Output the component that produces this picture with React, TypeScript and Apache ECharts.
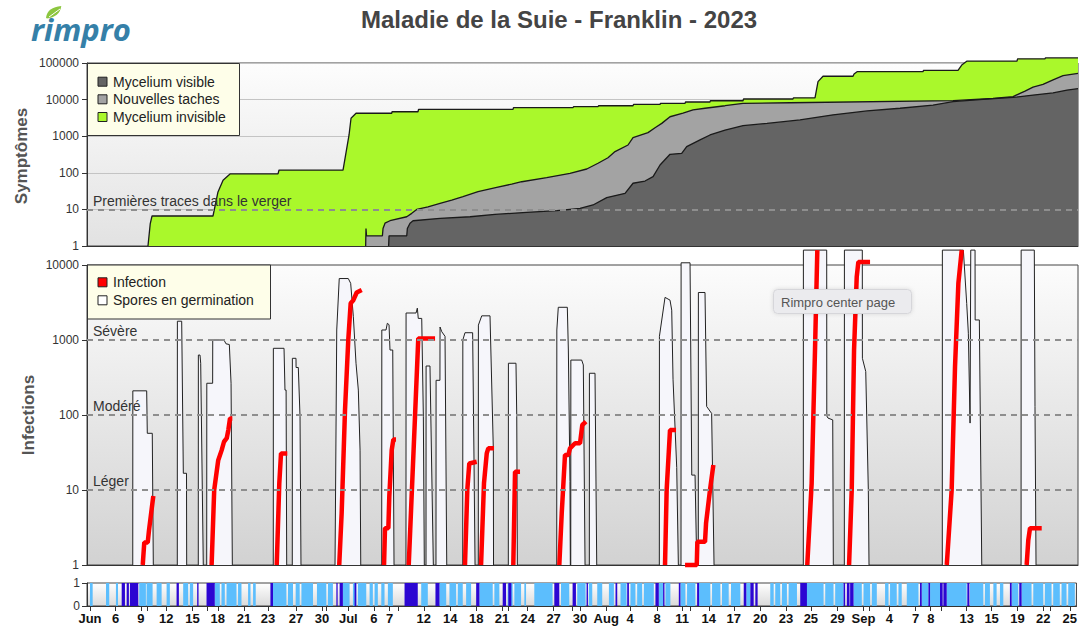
import React, { useEffect, useRef } from 'react';
import * as echarts from 'echarts';

const FONT = '"Liberation Sans", Arial, Helvetica, sans-serif';

// x axis in days since Jun 1 (Jun 1 = 0)
const X_MIN = 1.65;
const X_MAX = 116.88;

const tickDays = [2.0, 4.99, 7.93, 10.87, 13.94, 16.88, 19.94, 22.73, 25.99, 29.01, 32.08, 35.06, 36.88, 40.87, 43.94, 46.97, 49.99, 52.97, 55.99, 59.06, 62.12, 64.91, 68.05, 70.95, 74.06, 76.97, 80.06, 83.05, 85.95, 89.06, 92.08, 95.1, 98.16, 99.91, 104.09, 107.0, 110.02, 113.01, 116.1];
const tickLabels = ['Jun', '6', '9', '12', '15', '18', '21', '23', '27', '30', 'Jul', '6', '7', '12', '14', '18', '21', '24', '27', '30', 'Aug', '4', '8', '11', '14', '17', '20', '23', '25', '29', 'Sep', '4', '7', '8', '13', '15', '19', '22', '25'];
const minorTickDays = [8.71, 15.69, 29.56, 37.93, 50.76, 58.2, 71.85, 92.78, 101.1, 113.78];

// Symptômes panel
const myceliumInvisible = [[8.74, 1], [9.0, 4], [9.21, 6.6], [16.3, 6.6], [16.88, 30], [17.47, 63], [18.28, 93], [23.86, 93], [23.98, 119], [31.42, 119], [32.12, 1080], [32.35, 3090], [32.93, 4240], [37.08, 4240], [37.12, 4660], [40.14, 4660], [40.2, 5400], [51.19, 5400], [51.24, 6000], [58.16, 6000], [58.22, 6400], [61.07, 6400], [61.13, 6800], [65.14, 6800], [65.2, 7400], [68.28, 7400], [68.34, 7900], [71.19, 7900], [71.24, 8600], [74.09, 8600], [74.14, 9300], [77.93, 9300], [77.99, 10400], [83.74, 10400], [83.8, 11200], [86.3, 11200], [86.65, 31000], [87.23, 43500], [90.72, 43500], [90.84, 50000], [91.19, 58000], [98.86, 58000], [98.92, 63000], [102.93, 63000], [103.4, 90000], [103.98, 113000], [109.79, 113000], [109.85, 130000], [113.05, 130000], [113.1, 138000], [116.88, 138000]];
const nouvellesTaches = [[34.05, 1], [34.09, 3.0], [34.15, 1.9], [36.0, 1.9], [36.07, 3.0], [36.3, 4.2], [36.88, 4.9], [38.83, 6.3], [39.41, 7.8], [39.99, 10], [41.3, 11.8], [42.7, 14.7], [44.06, 18], [45.37, 22.3], [47.12, 30.5], [49.29, 40], [51.03, 49], [52.2, 57], [55.1, 74], [57.81, 97], [59.76, 127], [61.07, 182], [62.23, 258], [63.05, 380], [64.56, 575], [65.14, 910], [66.88, 1250], [67.7, 1700], [68.48, 2240], [69.44, 3400], [70.95, 4240], [72.12, 5250], [73.51, 5800], [75.84, 6800], [77.93, 7900], [83.4, 8200], [102.35, 9350], [107.0, 10800], [109.33, 12000], [110.14, 14800], [110.72, 17000], [111.65, 22000], [112.81, 26000], [113.98, 34600], [115.14, 45000], [116.88, 52000]];
const myceliumVisible = [[36.72, 1], [36.77, 1.9], [38.83, 1.9], [38.9, 3.0], [39.21, 4.2], [39.56, 4.9], [42.7, 5.7], [46.19, 6.3], [49.09, 7.3], [52.78, 8.3], [56.27, 9.2], [58.98, 10.7], [60.49, 13.2], [62.08, 21], [64.21, 27.5], [65.14, 51.8], [66.53, 59.5], [67.47, 78.5], [68.28, 163], [69.44, 320], [70.8, 340], [71.38, 520], [72.93, 790], [74.09, 1080], [75.84, 1470], [77.93, 1940], [80.72, 2240], [84.56, 2780], [88.4, 3850], [92.35, 4900], [96.19, 5800], [100.02, 7100], [102.35, 8800], [105.84, 10200], [109.33, 11500], [111.65, 13300], [113.98, 15200], [115.6, 18200], [116.88, 20000]];

// Infections panel
const sporeEvents = [
  [[6.97, 1], [6.98, 210], [8.59, 210], [8.66, 57], [9.24, 57], [9.36, 1]],
  [[12.15, 1], [12.16, 1780], [12.66, 1780], [12.85, 16.7], [13.22, 16.7], [13.24, 1]],
  [[14.59, 1], [14.6, 630], [14.79, 630], [14.87, 490], [14.95, 490], [15.17, 1]],
  [[15.57, 1], [15.58, 265], [16.26, 265], [16.27, 1000], [17.58, 1000], [17.81, 890], [18.2, 870], [18.4, 265], [18.55, 1]],
  [[23.31, 1], [23.32, 775], [24.56, 775], [24.67, 215], [24.8, 215], [24.87, 1]],
  [[25.52, 1], [25.53, 570], [25.95, 570], [25.96, 430], [26.22, 430], [26.42, 95], [26.53, 1]],
  [[30.49, 1], [30.69, 1360], [30.98, 6600], [32.03, 6600], [32.31, 5700], [32.62, 2040], [32.93, 490], [33.2, 215], [33.4, 34], [33.48, 1]],
  [[35.92, 1], [35.93, 1360], [36.42, 1360], [36.57, 1670], [36.77, 1600], [36.88, 735], [37.2, 735], [37.35, 1]],
  [[38.74, 1], [38.75, 2290], [39.91, 2290], [40.06, 2660], [40.17, 1940], [40.57, 1940], [40.76, 95], [40.87, 1]],
  [[41.07, 1], [41.08, 450], [41.53, 450], [41.92, 1]],
  [[42.23, 1], [42.24, 290], [42.69, 290], [42.7, 1490], [42.9, 1290], [43.28, 1120], [43.48, 1]],
  [[45.34, 1], [45.35, 1000], [45.6, 1250], [46.49, 1250], [46.65, 25], [46.77, 1]],
  [[47.15, 1], [47.16, 1580], [47.55, 2100], [48.51, 2100], [48.9, 34], [48.92, 1]],
  [[50.64, 1], [50.65, 490], [51.53, 490], [51.62, 95], [51.69, 1]],
  [[56.27, 1], [56.28, 1360], [56.45, 2730], [57.5, 2730], [57.62, 735], [57.81, 13], [57.85, 1]],
  [[57.9, 1], [57.91, 540], [59.17, 540], [59.36, 465], [59.56, 1]],
  [[60.06, 1], [60.07, 360], [60.72, 360], [60.92, 1]],
  [[68.2, 1], [68.21, 1120], [68.86, 3700], [69.44, 3400], [69.64, 2500], [69.79, 300], [70.22, 20], [70.41, 1]],
  [[70.72, 1], [70.73, 10700], [71.77, 10700], [71.97, 15.8], [72.35, 15.8], [72.55, 1]],
  [[72.73, 1], [72.74, 4300], [73.51, 4300], [73.7, 130], [74.28, 105], [74.56, 1]],
  [[84.94, 1], [84.95, 15800], [87.66, 15800], [87.67, 97], [87.81, 91], [88.36, 86], [88.43, 1]],
  [[89.71, 1], [89.72, 15800], [91.8, 15800], [91.81, 570], [92.2, 380], [92.5, 10], [92.58, 1]],
  [[101.1, 1], [101.11, 15800], [103.55, 15800], [103.94, 3060], [104.13, 1230], [104.33, 78], [104.41, 15800], [104.91, 15800], [104.92, 1850], [105.41, 1850], [105.69, 1]],
  [[110.26, 1], [110.27, 15800], [111.8, 15800], [111.88, 130], [112.0, 1]],
];
const infectionEvents = [
  [[8.13, 1], [8.31, 2.0], [8.71, 2.0], [8.86, 2.9], [9.36, 8.3]],
  [[16.14, 1], [16.44, 10], [16.91, 25], [17.31, 34], [17.58, 44], [17.9, 49], [18.08, 63], [18.28, 90], [18.55, 90]],
  [[23.71, 1], [24.01, 12.3], [24.21, 30.7], [24.94, 30.7]],
  [[30.98, 1], [31.26, 4.9], [31.65, 116], [32.03, 1000], [32.31, 3100], [32.62, 3400], [33.01, 4300], [33.59, 4640]],
  [[36.19, 1], [36.3, 3.1], [36.69, 3.1], [36.8, 8.15], [37.08, 34], [37.27, 47], [37.58, 47]],
  [[39.06, 1], [39.33, 5.4], [39.79, 95], [40.17, 1050], [42.12, 1050]],
  [[45.6, 1], [45.87, 10], [46.1, 22.6], [46.96, 23.8]],
  [[47.47, 1], [47.81, 12.3], [48.13, 30.7], [48.31, 36], [48.98, 36]],
  [[51.22, 1], [51.42, 17.5], [52.0, 17.5]],
  [[56.57, 1], [56.85, 4.9], [57.23, 29.3], [57.62, 29.3], [57.81, 36], [58.4, 42], [58.98, 42], [59.24, 73.6], [59.67, 81.5]],
  [[68.86, 1], [69.05, 10], [69.44, 63], [70.14, 63]],
  [[71.19, 1], [72.55, 1], [72.62, 2.04], [73.51, 2.04], [73.63, 3.6], [74.09, 10], [74.48, 21.5]],
  [[85.4, 1], [85.91, 12.3], [86.3, 735], [86.57, 15800]],
  [[90.26, 1], [90.57, 10], [90.84, 735], [91.15, 6900], [91.34, 11000], [92.7, 11000]],
  [[101.62, 1], [102.19, 10], [102.58, 440], [102.97, 5700], [103.36, 15800]],
  [[110.91, 1], [111.1, 2.15], [111.3, 3.1], [112.66, 3.1]],
];
const severityLevels = [10, 100, 1000];
const severityLabels = ['Léger', 'Modéré', 'Sévère'];
const firstTraceLevel = 10;

// wetness strip: [start, end] in days
const wetLightBands = [[2.0, 2.31], [3.86, 4.24], [5.02, 5.26], [7.73, 8.51], [8.59, 9.29], [9.76, 10.34], [10.92, 11.3], [12.85, 13.43], [13.63, 14.01], [16.53, 17.12], [17.31, 17.7], [17.9, 19.06], [19.24, 19.64], [20.41, 20.69], [20.99, 21.3], [23.31, 24.87], [25.06, 25.64], [25.95, 26.42], [26.62, 27.97], [28.43, 29.52], [29.71, 30.29], [31.45, 32.23], [32.62, 33.01], [33.2, 34.17], [34.56, 34.94], [35.14, 35.52], [35.92, 36.3], [36.69, 37.27], [40.57, 41.34], [42.7, 43.48], [43.86, 44.64], [44.83, 45.41], [45.8, 46.38], [47.35, 48.9], [49.09, 49.67], [50.64, 51.22], [51.42, 52.2], [52.58, 52.78], [53.74, 55.87], [56.85, 57.81], [58.74, 59.71], [60.1, 60.49], [61.07, 61.65], [62.43, 63.01], [63.78, 64.48], [64.94, 65.52], [65.72, 66.3], [66.5, 67.66], [68.24, 68.74], [69.01, 69.59], [70.76, 71.34], [71.53, 72.5], [72.93, 74.24], [74.44, 75.41], [75.6, 76.38], [76.65, 77.73], [78.43, 78.9], [81.22, 81.62], [81.8, 82.38], [82.58, 83.16], [83.36, 84.33], [85.33, 87.43], [87.62, 88.59], [88.78, 89.76], [90.92, 91.88], [92.08, 92.85], [93.05, 93.63], [94.59, 94.99], [95.17, 95.95], [96.15, 96.53], [97.12, 98.48], [98.86, 99.64], [99.83, 100.99], [101.77, 104.09], [104.48, 106.03], [106.22, 106.8], [107.2, 107.58], [107.97, 108.36], [109.33, 110.1], [110.49, 111.65], [111.85, 113.01], [113.2, 113.98], [114.17, 114.94], [115.14, 115.72], [115.92, 116.69]];
const wetDarkBands = [[5.69, 6.07], [6.27, 6.53], [6.65, 7.62], [12.08, 12.35], [14.48, 14.64], [15.57, 16.53], [23.01, 23.31], [30.69, 30.84], [31.07, 31.45], [32.81, 33.01], [38.63, 40.17], [42.23, 42.7], [46.97, 47.35], [50.06, 50.45], [50.72, 51.07], [56.07, 56.65], [58.2, 58.59], [59.83, 59.99], [63.2, 63.4], [64.56, 64.76], [67.85, 68.24], [68.74, 68.9], [70.57, 70.76], [72.7, 72.93], [78.13, 78.43], [78.9, 79.29], [79.48, 79.75], [84.71, 85.49], [89.76, 89.94], [90.14, 90.45], [90.52, 90.92], [98.66, 98.86], [99.64, 99.83], [100.99, 101.3], [101.38, 101.77], [104.17, 104.41], [109.13, 109.33], [110.22, 110.49]];

function withGaps(events: number[][][]) {
  const out: any[] = [];
  events.forEach((ev) => {
    ev.forEach((p) => out.push(p));
    out.push([ev[ev.length - 1][0] + 0.001, '-']);
  });
  return out;
}

const vGrad = (a: string, b: string) =>
  new echarts.graphic.LinearGradient(0, 0, 0, 1, [
    { offset: 0, color: a },
    { offset: 1, color: b },
  ]);

const LEAF = 'M0 13 C1 5 7 1 17 0 C16 8 10 13 1 14 Z';
const ZT = 200;

export default function App() {
  const ref = useRef<HTMLDivElement>(null);
  useEffect(() => {
    if (!ref.current) return;
    try {
      echarts.graphic.registerShape('leaf', echarts.graphic.extendPath(LEAF, {}) as any);
    } catch (e) {}
    const chart = echarts.init(ref.current, null, { renderer: 'svg' });

    const gridL = 87;
    const gridW = 991;
    const axisLineStyle = { color: '#333', width: 1 };
    const yLabel = {
      fontSize: 12, color: '#333', margin: 8, fontFamily: FONT,
      formatter: (v: number) => (v >= 1 ? String(Math.pow(10, Math.round(Math.log10(v)))) : String(v)),
    };

    const xBase = (i: number) => ({
      type: 'value',
      gridIndex: i,
      min: X_MIN,
      max: X_MAX,
      axisLine: { show: true, lineStyle: axisLineStyle },
      axisTick: { show: false },
      axisLabel: { show: false },
      splitLine: { show: false },
    });

    const bandSeries = (data: number[][], color: string) => ({
      type: 'custom',
      xAxisIndex: 2,
      yAxisIndex: 2,
      silent: true,
      data,
      encode: { x: [0, 1] },
      renderItem: (params: any, api: any) => {
        const a = api.coord([api.value(0), 1]);
        const b = api.coord([api.value(1), 0]);
        return {
          type: 'rect',
          shape: { x: a[0], y: a[1], width: Math.max(1, b[0] - a[0]), height: b[1] - a[1] },
          style: { fill: color },
        };
      },
    });

    const legendRow = (y: number, color: string, label: string) => [
      { type: 'rect', z: ZT + 1, shape: { x: 98, y: y - 4.5, width: 9, height: 9 }, style: { fill: color, stroke: '#222', lineWidth: 1 } },
      { type: 'text', z: ZT + 1, x: 113, y, style: { text: label, font: `14px ${FONT}`, fill: '#222', textVerticalAlign: 'middle' } },
    ];

    const labelText = (x: number, y: number, text: string) => ({
      type: 'text', z: ZT, x, y, style: { text, font: `14px ${FONT}`, fill: '#333', textVerticalAlign: 'middle' },
    });

    const option: any = {
      animation: false,
      textStyle: { fontFamily: FONT },
      grid: [
        { left: gridL, top: 63, width: gridW, height: 183, show: true, borderColor: '#444', borderWidth: 1, backgroundColor: vGrad('#fdfdfd', '#e2e2e2') },
        { left: gridL, top: 265, width: gridW, height: 300, show: true, borderColor: '#444', borderWidth: 1, backgroundColor: vGrad('#fcfcfc', '#d2d2d2') },
        { left: gridL, top: 583, width: gridW, height: 23, show: true, borderColor: '#444', borderWidth: 1, backgroundColor: vGrad('#ffffff', '#dadada') },
      ],
      xAxis: [
        xBase(0),
        xBase(1),
        {
          ...xBase(2),
          axisTick: { show: true, length: 5, lineStyle: { color: '#333' }, customValues: tickDays.concat(minorTickDays) },
          axisLabel: {
            show: true,
            customValues: tickDays,
            fontSize: 13,
            fontWeight: 'bold',
            color: '#111',
            margin: 6,
            fontFamily: FONT,
            formatter: (v: number) => {
              const i = tickDays.findIndex((d) => Math.abs(d - v) < 1e-6);
              return i >= 0 ? tickLabels[i] : '';
            },
          },
        },
      ],
      yAxis: [
        {
          type: 'log', logBase: 10, gridIndex: 0, min: 1, max: 100000, splitNumber: 5,
          axisLine: { show: true, lineStyle: axisLineStyle },
          axisTick: { show: true, length: 5, lineStyle: { color: '#333' } },
          axisLabel: yLabel,
          splitLine: { show: true, lineStyle: { color: '#c4c4c4', width: 1 } },
        },
        {
          type: 'log', logBase: 10, gridIndex: 1, min: 1, max: 10000, splitNumber: 4,
          axisLine: { show: true, lineStyle: axisLineStyle },
          axisTick: { show: true, length: 5, lineStyle: { color: '#333' } },
          axisLabel: yLabel,
          splitLine: { show: false },
        },
        {
          type: 'value', gridIndex: 2, min: 0, max: 1, interval: 1,
          axisLine: { show: true, lineStyle: axisLineStyle },
          axisTick: { show: true, length: 5, lineStyle: { color: '#333' } },
          axisLabel: { fontSize: 12, color: '#333', margin: 7, fontFamily: FONT },
          splitLine: { show: false },
        },
      ],
      series: [
        {
          name: 'Mycelium invisible', type: 'line', xAxisIndex: 0, yAxisIndex: 0, data: myceliumInvisible,
          symbol: 'none', clip: false, silent: true,
          lineStyle: { color: '#1a1a1a', width: 1.3 },
          areaStyle: { color: '#aaf82b', opacity: 1, origin: 'start' },
        },
        {
          name: 'Nouvelles taches', type: 'line', xAxisIndex: 0, yAxisIndex: 0, data: nouvellesTaches,
          symbol: 'none', clip: false, silent: true,
          lineStyle: { color: '#1a1a1a', width: 1.3 },
          areaStyle: { color: '#a3a3a3', opacity: 1, origin: 'start' },
        },
        {
          name: 'Mycelium visible', type: 'line', xAxisIndex: 0, yAxisIndex: 0, data: myceliumVisible,
          symbol: 'none', clip: false, silent: true,
          lineStyle: { color: '#1a1a1a', width: 1.3 },
          areaStyle: { color: '#646464', opacity: 1, origin: 'start' },
          markLine: {
            silent: true, symbol: 'none', label: { show: false },
            lineStyle: { color: '#8e8e8e', width: 2, type: [6, 5] },
            data: [{ yAxis: firstTraceLevel }],
          },
        },
        {
          name: 'Spores en germination', type: 'line', xAxisIndex: 1, yAxisIndex: 1, data: withGaps(sporeEvents),
          symbol: 'none', clip: false, silent: true, connectNulls: false,
          lineStyle: { color: '#222', width: 1 },
          areaStyle: { color: '#f6f6fb', opacity: 1, origin: 'start' },
          markLine: {
            silent: true, symbol: 'none', label: { show: false },
            lineStyle: { color: '#8e8e8e', width: 2, type: [6, 5] },
            data: severityLevels.map((v) => ({ yAxis: v })),
          },
        },
        {
          name: 'Infection', type: 'line', xAxisIndex: 1, yAxisIndex: 1, data: withGaps(infectionEvents),
          symbol: 'none', clip: false, silent: true, connectNulls: false,
          lineStyle: { color: '#ff0000', width: 4.5 },
        },
        bandSeries(wetLightBands, '#5cbefd'),
        bandSeries(wetDarkBands, '#2c06d2'),
      ],
      graphic: [
        { type: 'text', z: ZT, x: 559, y: 19, style: { text: 'Maladie de la Suie - Franklin - 2023', font: `bold 24px ${FONT}`, fill: '#444', textAlign: 'center', textVerticalAlign: 'middle' } },
        { type: 'leaf', z: ZT, x: 46, y: 6, scaleX: 0.9, scaleY: 0.9, style: { fill: '#8cc63f' } },
        { type: 'line', z: ZT + 1, shape: { x1: 49, y1: 17, x2: 60, y2: 9 }, style: { stroke: '#ffffff', lineWidth: 1 } },
        { type: 'text', z: ZT, x: 31, y: 29, style: { text: 'rimpro', font: `italic bold 31px "Open Sans", ${FONT}`, fill: '#3580a8', textVerticalAlign: 'middle' } },
        { type: 'text', z: ZT, x: 21, y: 156, rotation: Math.PI / 2, style: { text: 'Symptômes', font: `bold 17px ${FONT}`, fill: '#555', textAlign: 'center', textVerticalAlign: 'middle' } },
        { type: 'text', z: ZT, x: 28, y: 415, rotation: Math.PI / 2, style: { text: 'Infections', font: `bold 17px ${FONT}`, fill: '#555', textAlign: 'center', textVerticalAlign: 'middle' } },
        labelText(93, 201, 'Premières traces dans le verger'),
        ...severityLabels.map((t, i) => labelText(93, [481, 406, 331][i], t)),
        { type: 'rect', z: ZT, shape: { x: 87.5, y: 63.5, width: 152, height: 72 }, style: { fill: '#fefee9', stroke: '#333', lineWidth: 1 } },
        ...legendRow(81.7, '#646464', 'Mycelium visible'),
        ...legendRow(99.3, '#a3a3a3', 'Nouvelles taches'),
        ...legendRow(117, '#aaf82b', 'Mycelium invisible'),
        { type: 'rect', z: ZT, shape: { x: 87.5, y: 265, width: 183, height: 54 }, style: { fill: '#fefee9', stroke: '#333', lineWidth: 1 } },
        ...legendRow(282.3, '#ff0000', 'Infection'),
        ...legendRow(300.3, '#ffffff', 'Spores en germination'),
        { type: 'rect', z: ZT + 5, shape: { x: 773.5, y: 289.5, width: 138, height: 24, r: 4 }, style: { fill: '#ebebee', stroke: '#d6d6da', lineWidth: 1, shadowBlur: 4, shadowColor: 'rgba(0,0,0,0.12)' } },
        { type: 'text', z: ZT + 6, x: 781, y: 302, style: { text: 'Rimpro center page', font: `13px ${FONT}`, fill: '#555', textVerticalAlign: 'middle' } },
      ],
    };
    chart.setOption(option);
    return () => chart.dispose();
  }, []);
  return <div ref={ref} style={{ position: 'fixed', left: 0, top: 0, width: 1080, height: 628, background: '#fff' }} />;
}
